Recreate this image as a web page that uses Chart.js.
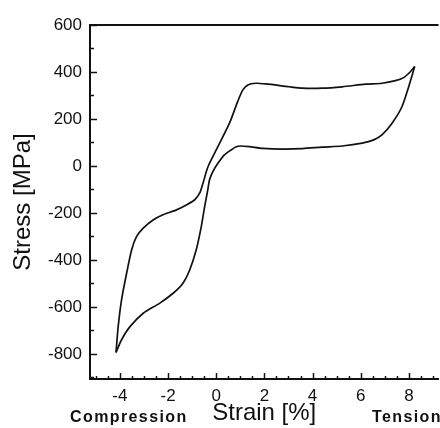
<!DOCTYPE html>
<html>
<head>
<meta charset="utf-8">
<script src="https://cdn.jsdelivr.net/npm/chart.js@4"></script>
<style>
    html, body { margin: 0; padding: 0; background: #fff; }
    #wrap { width: 440px; height: 428px; }
</style>
</head>
<body>
<div id="wrap"><canvas id="loopChart"></canvas></div>
<script>
// Stress-strain hysteresis loop (tension / compression)

// loading branch: from the compression tip up to the tension tip
const loadStrain = [-4.16, -4.07, -3.93, -3.72, -3.51, -3.31, -3.03, -2.62, -2.21, -1.65,
    -1.24, -0.90, -0.69, -0.55, -0.41, -0.31, 0.00, 0.55, 0.89, 1.10, 1.31, 1.65, 2.07,
    3.03, 3.58, 4.40, 5.23, 6.20, 6.88, 7.44, 7.78, 8.06, 8.24];
const loadStress = [-794, -684, -570, -457, -357, -301, -265, -230, -208, -187,
    -166, -145, -116, -74, -24, 4, 68, 182, 274, 323, 345, 352, 349,
    337, 331, 331, 337, 348, 352, 363, 376, 401, 423];

// unloading branch: from the tension tip back down to the compression tip
const unloadStrain = [8.24, 7.99, 7.71, 7.30, 6.88, 6.54, 6.06, 5.23, 4.40, 3.58, 2.75,
    1.93, 1.38, 1.03, 0.83, 0.62, 0.34, 0.07, -0.14, -0.28, -0.35, -0.48, -0.62, -0.83,
    -1.10, -1.38, -1.79, -2.34, -3.03, -3.58, -3.93, -4.16];
const unloadStress = [423, 337, 252, 182, 132, 111, 97, 85, 80, 74, 72,
    75, 82, 85, 82, 68, 47, 11, -24, -60, -102, -173, -258, -357,
    -443, -499, -542, -584, -627, -684, -740, -794];

// axis ranges, labelled ticks and minor tick steps
const strainRange = [-5.24, 9.23];
const stressRange = [-907, 600];
const strainLabels = [-4, -2, 0, 2, 4, 6, 8];
const stressLabels = [-800, -600, -400, -200, 0, 200, 400, 600];
const strainMinorStep = 0.5;
const stressMinorStep = 100;

const FONT = "'Liberation Sans', Arial, sans-serif";
const INK = '#111';

const toPoints = (xs, ys) => xs.map((x, i) => ({ x, y: ys[i] }));

// every minor-step value that falls inside the axis range
function tickValues(range, step) {
    const out = [];
    for (let k = Math.ceil(range[0] / step); k * step <= range[1] + 1e-9; k++) {
        out.push({ value: Math.round(k * step * 1000) / 1000 });
    }
    return out;
}

// inward tick marks, top frame line and the Compression / Tension captions
const framePlugin = {
    id: 'frame',
    afterDraw(chart) {
        const { ctx, chartArea: a, scales } = chart;
        ctx.save();
        ctx.strokeStyle = INK;

        ctx.lineWidth = 2;
        ctx.beginPath();
        ctx.moveTo(a.left - 1, a.top);
        ctx.lineTo(a.right, a.top);
        ctx.stroke();

        ctx.lineWidth = 1.5;
        scales.x.ticks.forEach(t => {
            const px = Math.round(scales.x.getPixelForValue(t.value)) + 0.5;
            const len = strainLabels.includes(t.value) ? 6 : 3;
            ctx.beginPath();
            ctx.moveTo(px, a.bottom);
            ctx.lineTo(px, a.bottom - len);
            ctx.stroke();
        });
        scales.y.ticks.forEach(t => {
            const py = Math.round(scales.y.getPixelForValue(t.value)) + 0.5;
            const len = stressLabels.includes(t.value) ? 7 : 4;
            ctx.beginPath();
            ctx.moveTo(a.left, py);
            ctx.lineTo(a.left + len, py);
            ctx.stroke();
        });

        ctx.fillStyle = INK;
        ctx.font = 'bold 16px ' + FONT;
        ctx.letterSpacing = '1.4px';
        ctx.textBaseline = 'alphabetic';
        ctx.textAlign = 'left';
        ctx.fillText('Compression', 70, 422);
        ctx.fillText('Tension', 372, 422);
        ctx.restore();
    }
};

const lineStyle = {
    borderColor: INK,
    borderWidth: 1.7,
    pointRadius: 0,
    showLine: true,
    tension: 0.25,
    fill: false
};

const ctx = document.getElementById('loopChart').getContext('2d');
const loopChart = new Chart(ctx, {
    type: 'scatter',
    data: {
        datasets: [
            { label: 'Loading', data: toPoints(loadStrain, loadStress), ...lineStyle },
            { label: 'Unloading', data: toPoints(unloadStrain, unloadStress), ...lineStyle }
        ]
    },
    options: {
        responsive: true,
        maintainAspectRatio: false,
        animation: false,
        layout: { padding: { top: 25, left: 0, right: 0, bottom: 0 } },
        plugins: {
            legend: { display: false },
            tooltip: { enabled: false }
        },
        scales: {
            x: {
                type: 'linear',
                min: strainRange[0],
                max: strainRange[1],
                afterBuildTicks: scale => { scale.ticks = tickValues(strainRange, strainMinorStep); },
                afterFit: scale => { scale.height = 49; },
                grid: { display: false, drawTicks: false },
                border: { display: true, color: INK, width: 2 },
                ticks: {
                    autoSkip: false,
                    maxRotation: 0,
                    padding: 7,
                    color: INK,
                    font: { family: FONT, size: 17 },
                    callback: v => strainLabels.includes(v) ? String(v) : ''
                },
                title: {
                    display: true,
                    text: 'Strain [%]',
                    color: INK,
                    font: { family: FONT, size: 24, lineHeight: 1.2 },
                    padding: { top: 0, bottom: 0 }
                }
            },
            y: {
                type: 'linear',
                min: stressRange[0],
                max: stressRange[1],
                afterBuildTicks: scale => { scale.ticks = tickValues(stressRange, stressMinorStep); },
                afterFit: scale => { scale.width = 90; },
                grid: { display: false, drawTicks: false },
                border: { display: true, color: INK, width: 2 },
                ticks: {
                    autoSkip: false,
                    padding: 8,
                    color: INK,
                    font: { family: FONT, size: 17 },
                    callback: v => stressLabels.includes(v) ? String(v) : ''
                },
                title: {
                    display: true,
                    text: 'Stress [MPa]',
                    color: INK,
                    font: { family: FONT, size: 24, lineHeight: 1.2 },
                    padding: { top: 9, bottom: 0 }
                }
            }
        }
    },
    plugins: [framePlugin]
});
</script>
</body>
</html>
